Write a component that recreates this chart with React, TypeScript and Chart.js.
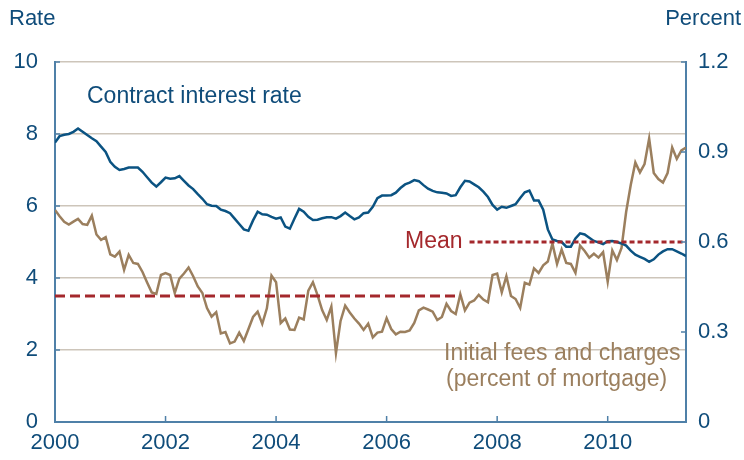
import React, { useEffect, useRef } from "react";
import { Chart, registerables } from "chart.js";
Chart.register(...registerables);

// Monthly data, January 2000 to June 2011
const START_YEAR = 2000;
const rateValues = [
  7.76, 7.94, 7.98, 8.0, 8.06, 8.15, 8.06, 7.97, 7.88, 7.8, 7.65, 7.5,
  7.23, 7.09, 7.0, 7.03, 7.07, 7.07, 7.07, 6.95, 6.8, 6.65, 6.54, 6.66,
  6.79, 6.76, 6.77, 6.83, 6.7, 6.57, 6.47, 6.33, 6.2, 6.05, 6.01, 6.0,
  5.9, 5.86, 5.8, 5.65, 5.5, 5.35, 5.31, 5.6, 5.84, 5.77, 5.76, 5.7,
  5.65, 5.68, 5.43, 5.37, 5.65, 5.92, 5.84, 5.7, 5.61, 5.62, 5.66, 5.69,
  5.69, 5.65, 5.72, 5.82, 5.72, 5.63, 5.68, 5.8, 5.82, 5.98, 6.22, 6.29,
  6.29, 6.3, 6.37, 6.5, 6.6, 6.65, 6.72, 6.69, 6.58, 6.48, 6.42, 6.38,
  6.37, 6.35, 6.28, 6.3, 6.52, 6.7, 6.68, 6.6, 6.52, 6.4, 6.25, 6.03,
  5.9, 5.98, 5.95, 6.0, 6.05, 6.22, 6.38, 6.43, 6.15, 6.15, 5.9, 5.35,
  5.07, 5.03, 5.0, 4.87, 4.87, 5.1, 5.24, 5.21, 5.12, 5.03, 4.99, 4.94,
  5.02, 5.03, 5.0, 4.96, 4.9, 4.76, 4.65, 4.59, 4.53, 4.45, 4.52, 4.65,
  4.74, 4.8, 4.8, 4.74, 4.68, 4.61,
];
const feeValues = [
  0.707, 0.686, 0.667, 0.658, 0.668, 0.677, 0.66, 0.657, 0.688, 0.625, 0.607, 0.616,
  0.559, 0.551, 0.568, 0.507, 0.557, 0.53, 0.527, 0.5, 0.465, 0.432, 0.427, 0.49,
  0.496, 0.49, 0.43, 0.478, 0.495, 0.515, 0.486, 0.452, 0.43, 0.38, 0.351, 0.366,
  0.295, 0.3, 0.262, 0.268, 0.298, 0.27, 0.31, 0.35, 0.368, 0.327, 0.379, 0.488,
  0.466, 0.33, 0.345, 0.308, 0.307, 0.348, 0.342, 0.438, 0.466, 0.423, 0.373, 0.34,
  0.385, 0.23, 0.337, 0.388, 0.365, 0.345, 0.328, 0.307, 0.328, 0.282, 0.298, 0.301,
  0.346, 0.31, 0.292, 0.301, 0.3, 0.305, 0.33, 0.372, 0.381, 0.375, 0.368, 0.34,
  0.35, 0.394, 0.37, 0.36, 0.426, 0.372, 0.398, 0.405, 0.424, 0.408, 0.399, 0.49,
  0.495, 0.432, 0.486, 0.42, 0.41, 0.38, 0.464, 0.458, 0.512, 0.497, 0.522, 0.535,
  0.595, 0.527, 0.575, 0.53, 0.527, 0.497, 0.588, 0.57, 0.548, 0.561, 0.548, 0.566,
  0.468, 0.572, 0.54, 0.58, 0.7, 0.79, 0.865, 0.832, 0.86, 0.945, 0.83, 0.81,
  0.798, 0.83, 0.915, 0.877, 0.905, 0.915,
];
// Mean of fees over two periods (month index from Jan 2000)
const meanStartMonths = [0, 90];
const meanEndMonths = [88, 137];
const meanValues = [0.42, 0.6];

const yearTicks = [2000, 2002, 2004, 2006, 2008, 2010];
const rateTicks = [0, 2, 4, 6, 8, 10];
const percentTicks = [0, 0.3, 0.6, 0.9, 1.2];

const FONT = "'Liberation Sans', Arial, sans-serif";
const TEXT_BLUE = "#0f4c7a";
const AXIS_BLUE = "#4f80a8";
const RATE_COLOR = "#0b5382";
const FEE_COLOR = "#9b7f5e";
const MEAN_RED = "#a4282c";
const GRID = "#cdc5ba";

const monthToYear = (m: number) => START_YEAR + m / 12;

export default function App() {
  const ref = useRef<HTMLCanvasElement | null>(null);
  useEffect(() => {
    if (!ref.current) return;
    const ratePts = rateValues.map((v, i) => ({ x: monthToYear(i), y: v }));
    const feePts = feeValues.map((v, i) => ({ x: monthToYear(i), y: v }));
    const meanSets = meanValues.map((v, k) => ({
      data: [
        { x: monthToYear(meanStartMonths[k]), y: v },
        { x: monthToYear(meanEndMonths[k]), y: v },
      ],
      borderColor: MEAN_RED,
      borderWidth: 3,
      borderDash: k === 0 ? [10, 5] : [5, 3],
      pointRadius: 0,
      yAxisID: "y1",
      tension: 0,
    }));

    const decor = {
      id: "decor",
      afterDraw(chart: any) {
        const { ctx, chartArea, scales } = chart;
        const { left, right, bottom } = chartArea;
        ctx.save();
        ctx.strokeStyle = AXIS_BLUE;
        ctx.lineWidth = 1.5;
        ctx.beginPath();
        rateTicks.forEach((t) => {
          const y = scales.y.getPixelForValue(t);
          ctx.moveTo(left, y);
          ctx.lineTo(left + 5, y);
        });
        percentTicks.forEach((t) => {
          const y = scales.y1.getPixelForValue(t);
          ctx.moveTo(right, y);
          ctx.lineTo(right - 5, y);
        });
        yearTicks.forEach((t) => {
          const x = scales.x.getPixelForValue(t);
          ctx.moveTo(x, bottom);
          ctx.lineTo(x, bottom - 6);
        });
        ctx.stroke();

        ctx.textBaseline = "middle";
        ctx.font = `22px ${FONT}`;
        ctx.fillStyle = TEXT_BLUE;
        ctx.textAlign = "left";
        ctx.fillText("Rate", 9, 19);
        ctx.textAlign = "right";
        ctx.fillText("Percent", 741, 19);

        ctx.font = `23px ${FONT}`;
        ctx.textAlign = "left";
        ctx.fillStyle = TEXT_BLUE;
        ctx.fillText("Contract interest rate", 87, 97);

        ctx.fillStyle = FEE_COLOR;
        ctx.fillText("Initial fees and charges", 444, 354);
        ctx.fillText("(percent of mortgage)", 446, 380);

        ctx.fillStyle = MEAN_RED;
        ctx.textAlign = "right";
        const mx = scales.x.getPixelForValue(monthToYear(meanStartMonths[1])) - 7;
        const my = scales.y1.getPixelForValue(meanValues[1]);
        ctx.fillText("Mean", mx, my);
        ctx.restore();
      },
    };

    const chart = new Chart(ref.current, {
      type: "line",
      data: {
        datasets: [
          ...meanSets,
          {
            data: ratePts,
            borderColor: RATE_COLOR,
            borderWidth: 2.5,
            pointRadius: 0,
            yAxisID: "y",
            tension: 0,
          },
          {
            data: feePts,
            borderColor: FEE_COLOR,
            borderWidth: 2.5,
            pointRadius: 0,
            yAxisID: "y1",
            tension: 0,
          },
        ] as any,
      },
      options: {
        responsive: false,
        animation: false,
        layout: { padding: { top: 62, left: 0, right: 0, bottom: 0 } },
        plugins: { legend: { display: false }, tooltip: { enabled: false } },
        scales: {
          x: {
            type: "linear",
            min: START_YEAR,
            max: monthToYear(rateValues.length - 1),
            afterBuildTicks: (s: any) => {
              s.ticks = yearTicks.map((v) => ({ value: v }));
            },
            afterFit: (s: any) => {
              s.height = 38;
            },
            grid: { display: false, drawTicks: false },
            border: { color: AXIS_BLUE, width: 2 },
            ticks: {
              color: TEXT_BLUE,
              font: { family: FONT, size: 22 },
              padding: 8,
              maxRotation: 0,
              autoSkip: false,
              callback: (v: any) => String(v),
            },
          },
          y: {
            position: "left",
            min: 0,
            max: 10,
            afterBuildTicks: (s: any) => {
              s.ticks = rateTicks.map((v) => ({ value: v }));
            },
            afterFit: (s: any) => {
              s.width = 55;
            },
            grid: {
              drawTicks: false,
              color: (c: any) => (c.tick && c.tick.value === 0 ? "rgba(0,0,0,0)" : GRID),
              lineWidth: 1.5,
            },
            border: { color: AXIS_BLUE, width: 2 },
            ticks: {
              color: TEXT_BLUE,
              font: { family: FONT, size: 22 },
              padding: 17,
              callback: (v: any) => String(v),
            },
          },
          y1: {
            position: "right",
            min: 0,
            max: 1.2,
            afterBuildTicks: (s: any) => {
              s.ticks = percentTicks.map((v) => ({ value: v }));
            },
            afterFit: (s: any) => {
              s.width = 58;
            },
            grid: { display: false, drawTicks: false },
            border: { color: AXIS_BLUE, width: 2 },
            ticks: {
              color: TEXT_BLUE,
              font: { family: FONT, size: 22 },
              padding: 12,
              callback: (v: any) => (v === 0 ? "0" : Number(v).toFixed(1)),
            },
          },
        },
      } as any,
      plugins: [decor],
    });
    return () => chart.destroy();
  }, []);

  return (
    <div style={{ position: "absolute", left: 0, top: 0, width: 744, height: 460, background: "#fff" }}>
      <canvas ref={ref} width={744} height={460} style={{ display: "block" }} />
    </div>
  );
}
